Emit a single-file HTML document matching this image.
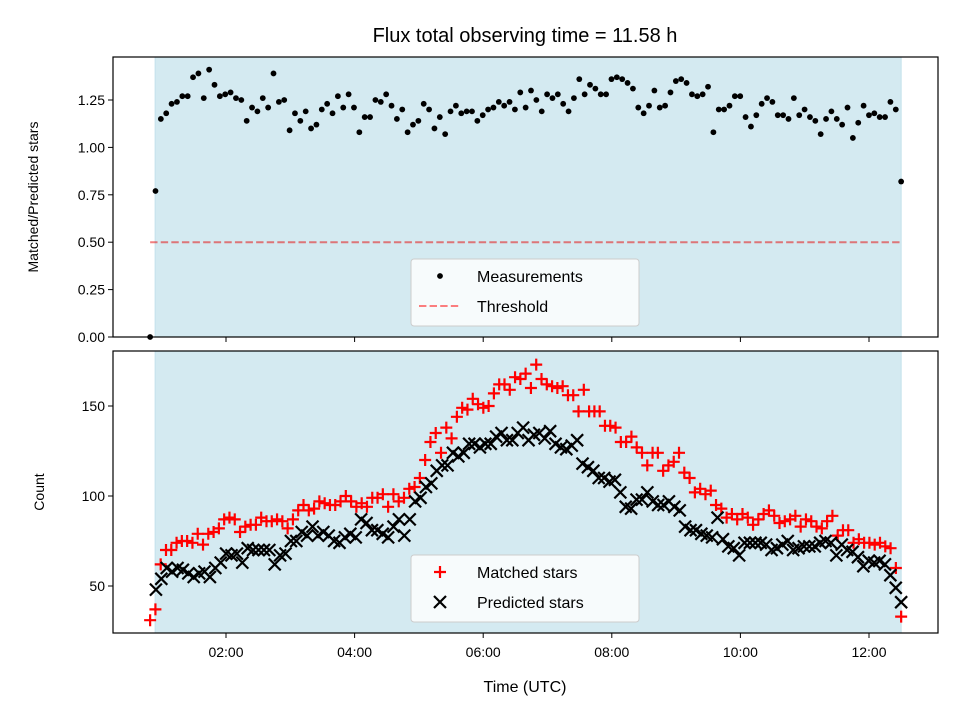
<!DOCTYPE html>
<html><head><meta charset="utf-8"><style>
body{margin:0;background:#fff}
svg{display:block;font-family:"Liberation Sans","DejaVu Sans",sans-serif}
</style></head><body>
<svg id="fig" width="960" height="720" viewBox="0 0 960 720" xmlns="http://www.w3.org/2000/svg">
<text x="525" y="42" font-size="20" text-anchor="middle">Flux total observing time = 11.58 h</text>
<g id="topPanel"></g>
<g id="botPanel"></g>
</svg>
<script>
const ratioValues=[0.0,0.77,1.15,1.18,1.23,1.24,1.27,1.27,1.37,1.39,1.26,1.41,1.33,1.27,1.28,1.29,1.26,1.25,1.14,1.21,1.19,1.26,1.21,1.39,1.24,1.25,1.09,1.18,1.14,1.19,1.10,1.12,1.20,1.23,1.18,1.27,1.21,1.28,1.21,1.08,1.16,1.16,1.25,1.24,1.28,1.22,1.15,1.20,1.08,1.12,1.14,1.23,1.20,1.10,1.16,1.07,1.19,1.22,1.18,1.19,1.19,1.14,1.17,1.20,1.21,1.24,1.22,1.24,1.20,1.29,1.21,1.30,1.25,1.19,1.28,1.26,1.28,1.23,1.19,1.26,1.36,1.28,1.33,1.31,1.28,1.28,1.36,1.37,1.36,1.34,1.31,1.21,1.18,1.22,1.30,1.21,1.22,1.29,1.35,1.36,1.34,1.28,1.27,1.28,1.32,1.08,1.20,1.20,1.22,1.27,1.27,1.16,1.11,1.17,1.23,1.26,1.24,1.17,1.17,1.15,1.26,1.17,1.20,1.16,1.14,1.07,1.15,1.19,1.15,1.12,1.21,1.05,1.13,1.22,1.17,1.18,1.16,1.16,1.24,1.20,0.82];
const matchedValues=[31,37,62,70,70,74,75,75,74,79,73,79,80,82,87,88,87,80,83,84,84,88,86,86,87,86,82,87,92,95,92,93,97,96,95,95,97,100,97,94,96,94,99,99,101,94,101,97,99,104,105,110,120,130,135,124,138,132,144,149,148,154,151,149,150,157,162,162,159,166,165,168,160,173,165,162,161,160,161,156,156,147,159,147,147,147,139,139,138,130,130,133,127,124,117,124,124,114,117,119,124,113,110,102,104,101,103,95,93,88,90,87,90,88,84,87,90,92,89,85,86,87,89,83,87,86,83,82,86,89,78,81,81,74,76,74,74,73,74,72,71,60,33];
const predictedValues=[48,54,60,58,60,59,57,55,57,58,55,60,63,68,67,68,63,71,70,70,70,70,62,67,68,75,75,80,78,83,78,80,78,75,74,77,79,77,87,85,81,81,79,77,83,87,78,87,97,99,105,107,114,117,117,124,122,124,129,129,127,129,129,133,135,131,131,135,138,131,134,135,132,136,129,127,126,128,131,118,116,114,110,110,108,109,102,94,93,98,98,102,97,95,95,97,94,92,83,81,81,79,78,77,88,76,72,71,67,74,74,74,74,73,70,71,73,75,70,71,72,72,72,74,75,74,67,73,70,69,66,61,64,63,64,62,56,49,41];
const timeTicks=[2,4,6,8,10,12];
const timeTickLabels=["02:00","04:00","06:00","08:00","10:00","12:00"];
const ratioTicks=[0,0.25,0.5,0.75,1.0,1.25];
const countTicks=[50,100,150];
const thresholdValue=0.5;
const obsStart=0.82, obsEnd=12.5, matchedStart=0.82, predictedStart=0.91;

const NS="http://www.w3.org/2000/svg";
const L=113,R=938;
const xS=h=>226+(h-2)*64.3;
const yTop=v=>337-v*189.6;
const yBot=c=>406-(c-150)*1.8;
function mk(p,t,a){const e=document.createElementNS(NS,t);for(const k in a)e.setAttribute(k,a[k]);p.appendChild(e);return e;}
const topG=document.getElementById('topPanel'),botG=document.getElementById('botPanel');
const fig=document.getElementById('fig');

function frame(g,y0,y1,ticks,yf,fmt,labels,yl,ylx){
  mk(g,'rect',{x:L,y:y0,width:R-L,height:y1-y0,fill:'#fff'});
  const sp=mk(g,'rect',{x:xS(obsStart)+5,y:y0,width:xS(obsEnd)-xS(obsStart)-5,height:y1-y0,fill:'rgb(212,234,241)',stroke:'rgb(195,225,236)','stroke-width':1});
  
  
  ticks.forEach(v=>{const y=yf(v);
    mk(g,'line',{x1:L-5,x2:L,y1:y,y2:y,stroke:'#000','stroke-width':1});
    const t=mk(g,'text',{x:L-8,y:y+5,'font-size':14,'text-anchor':'end'});t.textContent=fmt(v);
    
    
  });
  timeTicks.forEach((h,i)=>{const x=xS(h);
    mk(g,'line',{x1:x,x2:x,y1:y1,y2:y1+5,stroke:'#000','stroke-width':1});
    if(labels){const t=mk(g,'text',{x:x,y:y1+24,'font-size':14,'text-anchor':'middle'});t.textContent=timeTickLabels[i];
      
      }
  });
  const yt=mk(g,'text',{x:ylx,y:(y0+y1)/2,'font-size':14,'text-anchor':'middle',transform:`rotate(-90 ${ylx} ${(y0+y1)/2})`});
  yt.textContent=yl;
  
  
}
frame(topG,57,337,ratioTicks,yTop,v=>v.toFixed(2),false,'Matched/Predicted stars',38);
frame(botG,351,633,countTicks,yBot,v=>String(v),true,'Count',44);

const th=mk(topG,'line',{x1:xS(obsStart),x2:xS(obsEnd),y1:yTop(thresholdValue),y2:yTop(thresholdValue),stroke:'rgba(230,0,0,0.5)','stroke-width':2,'stroke-dasharray':'7.4,3.2'});


const st=(obsEnd-obsStart)/(ratioValues.length-1);
ratioValues.forEach((v,i)=>{const c=mk(topG,'circle',{cx:xS(obsStart+i*st),cy:yTop(v),r:2.9,fill:'#000'});
  
  });
const sm=(obsEnd-matchedStart)/(matchedValues.length-1);
matchedValues.forEach((v,i)=>{const x=xS(matchedStart+i*sm),y=yBot(v);
  const p=mk(botG,'path',{d:`M${x-6},${y}H${x+6}M${x},${y-6}V${y+6}`,stroke:'#f00','stroke-width':2.2});
  
  });
const sp2=(obsEnd-predictedStart)/(predictedValues.length-1);
predictedValues.forEach((v,i)=>{const x=xS(predictedStart+i*sp2),y=yBot(v);
  const p=mk(botG,'path',{d:`M${x-6},${y-6}L${x+6},${y+6}M${x-6},${y+6}L${x+6},${y-6}`,stroke:'#000','stroke-width':2.2});
  
  });

[[57,337],[351,633]].forEach(([a,b])=>mk(fig,'rect',{x:L,y:a,width:R-L,height:b-a,fill:'none',stroke:'#000','stroke-width':1.2}));

function legend(g,y,items){
  const lg=mk(g,'g',{});
  
  
  mk(lg,'rect',{x:411,y:y,width:228,height:67,rx:3,fill:'rgba(255,255,255,0.8)',stroke:'#ccc','stroke-width':1});
  items.forEach((it,i)=>{const cy=y+17+i*30;
    it.draw(lg,440,cy);
    const t=mk(lg,'text',{x:477,y:cy+6,'font-size':16});t.textContent=it.label;
    
    });
}
legend(fig,259,[
 {label:'Measurements',draw:(g,x,y)=>mk(g,'circle',{cx:x,cy:y,r:2.9,fill:'#000'})},
 {label:'Threshold',draw:(g,x,y)=>mk(g,'line',{x1:x-21,x2:x+19,y1:y,y2:y,stroke:'rgba(255,0,0,0.5)','stroke-width':2,'stroke-dasharray':'7.4,3.2'})}
]);
legend(fig,555,[
 {label:'Matched stars',draw:(g,x,y)=>mk(g,'path',{d:`M${x-6},${y}H${x+6}M${x},${y-6}V${y+6}`,stroke:'#f00','stroke-width':2.2})},
 {label:'Predicted stars',draw:(g,x,y)=>mk(g,'path',{d:`M${x-6},${y-6}L${x+6},${y+6}M${x-6},${y+6}L${x+6},${y-6}`,stroke:'#000','stroke-width':2.2})}
]);
const xt=mk(fig,'text',{x:525,y:692,'font-size':16,'text-anchor':'middle'});
xt.textContent='Time (UTC)';


</script>
</body></html>
